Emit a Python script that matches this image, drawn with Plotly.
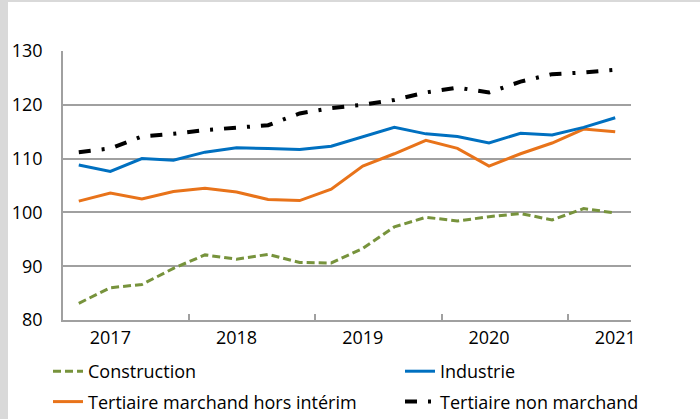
import plotly.graph_objects as go

quarters = list(range(18))
year_pos = [1, 5, 9, 13, 17]
year_labels = ["2017", "2018", "2019", "2020", "2021"]
sep_pos = [3.5, 7.5, 11.5, 15.5]

construction = [83.1, 86.0, 86.6, 89.6, 92.1, 91.3, 92.2, 90.7, 90.6, 93.3, 97.3, 99.1, 98.4, 99.2, 99.8, 98.6, 100.7, 99.9]
industrie = [108.8, 107.6, 110.0, 109.7, 111.2, 112.0, 111.9, 111.7, 112.3, 114.0, 115.8, 114.6, 114.1, 112.9, 114.7, 114.4, 115.8, 117.6]
tertiaire_m = [102.1, 103.6, 102.5, 103.9, 104.5, 103.8, 102.4, 102.2, 104.3, 108.6, 110.9, 113.4, 111.9, 108.6, 110.9, 112.9, 115.5, 115.0]
tertiaire_nm = [111.2, 111.9, 114.1, 114.6, 115.3, 115.7, 116.2, 118.4, 119.4, 120.0, 120.9, 122.3, 123.2, 122.3, 124.3, 125.7, 126.0, 126.5]

FONT = "Open Sans, DejaVu Sans, sans-serif"
FS = 18
GRID = "#A0A0A0"

fig = go.Figure()
fig.add_trace(go.Scatter(x=quarters, y=construction, name="Construction", mode="lines",
                         line=dict(color="#77933C", width=3, dash="8px,4px"),
                         legend="legend", legendgroup="a"))
fig.add_trace(go.Scatter(x=quarters, y=tertiaire_m, name="Tertiaire marchand hors intérim", mode="lines",
                         line=dict(color="#E8731A", width=3),
                         legend="legend", legendgroup="b"))
fig.add_trace(go.Scatter(x=quarters, y=industrie, name="Industrie", mode="lines",
                         line=dict(color="#0070C0", width=3),
                         legend="legend2", legendgroup="c"))
fig.add_trace(go.Scatter(x=quarters, y=tertiaire_nm, name="Tertiaire non marchand", mode="lines",
                         line=dict(color="#000000", width=4, dash="12px,11px,3px,11px"),
                         legend="legend2", legendgroup="d"))

W, H = 700, 419
ml, mr, mt, mb = 63, 69, 51, 99
pw, ph = W - ml - mr, H - mt - mb

def px(x):
    return (x - ml) / pw

def py(y):
    return (H - mb - y) / ph

fig.update_layout(
    width=W, height=H,
    margin=dict(l=ml, r=mr, t=mt, b=mb, autoexpand=False),
    paper_bgcolor="white", plot_bgcolor="white",
    font=dict(family=FONT, size=FS, color="#000000"),
    showlegend=True,
    legend=dict(x=px(48), y=py(353), xanchor="left", yanchor="top",
                orientation="v", tracegroupgap=4, bgcolor="rgba(0,0,0,0)",
                font=dict(family=FONT, size=FS)),
    legend2=dict(x=px(400), y=py(353), xanchor="left", yanchor="top",
                 orientation="v", tracegroupgap=4, bgcolor="rgba(0,0,0,0)",
                 font=dict(family=FONT, size=FS)),
    xaxis=dict(range=[-0.5, 17.5], tickmode="array", tickvals=year_pos, ticktext=year_labels,
               ticks="", showgrid=False, zeroline=False,
               showline=True, linecolor=GRID, linewidth=2,
               ticklabelstandoff=0,
               minor=dict(tickmode="array", tickvals=sep_pos, ticks="inside", ticklen=6,
                          tickcolor=GRID, tickwidth=1.5, showgrid=False)),
    yaxis=dict(range=[80, 130], tickmode="array", tickvals=[80, 90, 100, 110, 120, 130],
               ticks="", showgrid=True, gridcolor=GRID, gridwidth=1.5, zeroline=False,
               showline=True, linecolor=GRID, linewidth=1.5,
               ticklabelstandoff=15),
    shapes=[
        dict(type="rect", xref="paper", yref="paper", x0=px(0), x1=px(8), y0=py(H), y1=py(0),
             fillcolor="#D9D9D9", line=dict(width=0), layer="below"),
        dict(type="rect", xref="paper", yref="paper", x0=px(0), x1=px(W), y0=py(2), y1=py(0),
             fillcolor="#D9D9D9", line=dict(width=0), layer="below"),
    ],
)

fig.write_html("out.html",
               config={"displayModeBar": False},
               post_script="document.body.style.margin='0px';document.body.style.overflow='hidden';")
